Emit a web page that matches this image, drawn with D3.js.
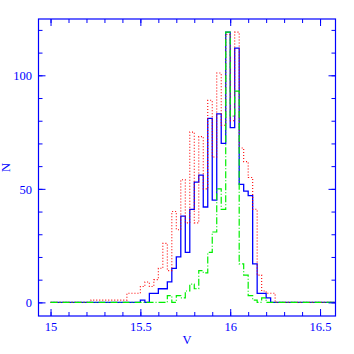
<!DOCTYPE html>
<html>
<head>
<meta charset="utf-8">
<script src="https://cdn.jsdelivr.net/npm/d3@7"></script>
<style>
  html, body { margin: 0; padding: 0; background: #fff; }
  svg { display: block; }
</style>
</head>
<body>
<div id="chart"></div>
<script>
// bin edges start at 15.2, width 0.025 (zeros outside)
var binStart = 15.2;
var binWidth = 0.025;
var histLo = 15.0;
var histHi = 16.6;

var countsBlue = [0,0,0,0,0,0,0,0,0,0,0,0, 1,0,4,4, 6,6,9,15, 20,38,22,41, 53,56,42,81, 45,83,70,119, 77,112,52,49, 47,17,4,4, 2,0];
var countsRed = [0,1,1,1,1,1,1,1,1, 4,4,4, 7,9,7,10, 15,26,14,40, 32,54,35,75, 35,73,50,89, 64,101,78,118, 80,119,68,62, 55,41,12,5, 4,4];
var countsGreen = [0,0,0,0,0,0,0,0,0,0,0,0,0,0,0,0,0,0, 3,0,3,2, 5,8,6,14, 13,22,31,50, 41,119,82,93, 17,12,3,1, 0,2,0,0];

var xMajor = [15, 15.5, 16, 16.5];
var xMajorLabels = ["15", "15.5", "16", "16.5"];
var xMinor = d3.range(150, 166).map(function (d) { return d / 10; });
var yMajor = [0, 50, 100];
var yMinor = [0, 10, 20, 30, 40, 50, 60, 70, 80, 90, 100, 110, 120];

var W = 354, H = 354;
// plot frame (note: "top" is reserved on window, so use padded names)
var fLeft = 38.5, fRight = 335.5, fTop = 19, fBottom = 316;
var blue = "#0000ff";

var svg = d3.select("#chart").append("svg")
    .attr("width", W)
    .attr("height", H);

var x = d3.scaleLinear().domain([14.933, 16.586]).range([fLeft, fRight]);
var y = d3.scaleLinear().domain([-6, 124.8]).range([fBottom, fTop]);

svg.append("defs").append("clipPath").attr("id", "frameClip")
    .append("rect")
    .attr("x", fLeft).attr("y", fTop)
    .attr("width", fRight - fLeft).attr("height", fBottom - fTop);

// turn a counts array into step points over [histLo, histHi]
function stepPoints(counts) {
    var pts = [];
    var nb = Math.round((histHi - histLo) / binWidth);
    var offset = Math.round((binStart - histLo) / binWidth);
    for (var i = 0; i < nb; i++) {
        var c = counts[i - offset];
        pts.push([histLo + i * binWidth, c === undefined ? 0 : c]);
    }
    pts.push([histHi, 0]);
    return pts;
}

var line = d3.line()
    .x(function (d) { return x(d[0]); })
    .y(function (d) { return y(d[1]); })
    .curve(d3.curveStepAfter);

var g = svg.append("g").attr("clip-path", "url(#frameClip)");

g.append("path")
    .attr("d", line(stepPoints(countsBlue)))
    .attr("fill", "none")
    .attr("stroke", blue)
    .attr("stroke-width", 1.3);

g.append("path")
    .attr("d", line(stepPoints(countsRed)))
    .attr("fill", "none")
    .attr("stroke", "#ff0000")
    .attr("stroke-width", 1.1)
    .attr("stroke-dasharray", "1,2");

g.append("path")
    .attr("d", line(stepPoints(countsGreen)))
    .attr("fill", "none")
    .attr("stroke", "#00ee00")
    .attr("stroke-width", 1.2)
    .attr("stroke-dasharray", "7,2,1,2");

// axes: ticks point inwards on all four sides
function addAxis(axisFn, scale, values, size, transform, fmt) {
    var a = axisFn(scale).tickValues(values).tickSize(size).tickSizeOuter(0);
    a.tickFormat(fmt || function () { return ""; });
    var ax = svg.append("g").attr("transform", transform).call(a);
    ax.select(".domain").remove();
    ax.selectAll("line").attr("stroke", blue).attr("stroke-width", 1);
    if (!fmt) ax.selectAll("text").remove();
    return ax;
}

addAxis(d3.axisBottom, x, xMinor, -4, "translate(0," + fBottom + ")");
var xb = addAxis(d3.axisBottom, x, xMajor, -7, "translate(0," + fBottom + ")",
    function (d, i) { return xMajorLabels[i]; });
addAxis(d3.axisTop, x, xMinor, -4, "translate(0," + fTop + ")");
addAxis(d3.axisTop, x, xMajor, -7, "translate(0," + fTop + ")");
addAxis(d3.axisLeft, y, yMinor, -4, "translate(" + fLeft + ",0)");
var yl = addAxis(d3.axisLeft, y, yMajor, -7, "translate(" + fLeft + ",0)", d3.format("d"));
addAxis(d3.axisRight, y, yMinor, -4, "translate(" + fRight + ",0)");
addAxis(d3.axisRight, y, yMajor, -7, "translate(" + fRight + ",0)");

xb.selectAll("text")
    .attr("y", 15)
    .attr("dy", 0)
    .attr("fill", blue)
    .style("font-family", "'Liberation Serif', serif")
    .style("font-size", "12.5px");

yl.selectAll("text")
    .attr("x", -6.5)
    .attr("dy", "0.35em")
    .attr("fill", blue)
    .style("font-family", "'Liberation Serif', serif")
    .style("font-size", "12.5px");

svg.append("rect")
    .attr("x", fLeft).attr("y", fTop)
    .attr("width", fRight - fLeft).attr("height", fBottom - fTop)
    .attr("fill", "none")
    .attr("stroke", blue)
    .attr("stroke-width", 1.2);

svg.append("text")
    .attr("x", (fLeft + fRight) / 2)
    .attr("y", 344)
    .attr("text-anchor", "middle")
    .attr("fill", blue)
    .style("font-family", "'Liberation Serif', serif")
    .style("font-size", "12.5px")
    .text("V");

svg.append("text")
    .attr("transform", "translate(9.5," + (fTop + fBottom) / 2 + ") rotate(-90)")
    .attr("text-anchor", "middle")
    .attr("fill", blue)
    .style("font-family", "'Liberation Serif', serif")
    .style("font-size", "12.5px")
    .text("N");
</script>
</body>
</html>
